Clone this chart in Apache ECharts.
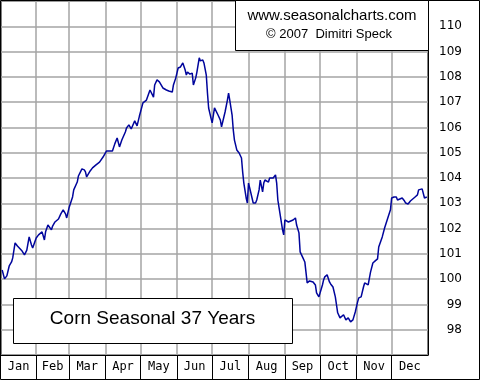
<!DOCTYPE html>
<html>
<head>
<meta charset="utf-8">
<script src="https://cdn.jsdelivr.net/npm/echarts@6/dist/echarts.min.js"></script>
<style>
html,body{margin:0;padding:0;background:#fff;}
#c{width:480px;height:380px;}
</style>
</head>
<body>
<div id="c"></div>
<script>
// Day of year (0-based) and seasonal index values
const days = [2,4,6,8,10,11,13,15,19,21,23,25,27,28,31,33,36,38,39,41,44,45,47,50,52,54,56,57,59,62,63,66,67,70,72,73,74,77,79,82,85,88,91,96,98,100,102,104,107,108,110,112,113,115,117,119,122,125,128,131,132,134,136,139,142,144,147,148,150,152,154,156,158,159,160,162,164,165,167,168,170,171,173,174,176,177,178,180,181,183,186,188,189,192,194,195,196,198,199,200,202,204,206,207,208,210,211,212,213,215,216,218,219,221,222,224,225,226,229,230,233,235,236,237,239,241,242,243,246,247,250,252,253,255,256,258,260,262,264,265,267,269,270,272,273,275,276,277,279,281,282,284,286,287,288,290,293,295,297,299,301,303,305,306,308,310,311,314,316,318,320,322,323,326,328,331,333,334,336,338,339,341,343,345,346,348,350,351,354,356,357,358,360,361,362,364];
const values = [100.36,100.01,100.13,100.52,100.68,100.84,101.43,101.31,101.11,100.96,101.15,101.67,101.35,101.23,101.63,101.75,101.87,101.55,101.87,102.14,101.95,102.10,102.26,102.38,102.58,102.74,102.58,102.42,102.82,103.25,103.53,103.84,104.08,104.36,104.32,104.24,104.04,104.28,104.40,104.52,104.63,104.83,105.07,105.07,105.35,105.58,105.23,105.50,105.82,105.98,106.10,105.94,105.98,106.26,106.06,106.45,106.97,107.08,107.48,107.20,107.68,107.88,107.80,107.56,107.48,107.44,107.40,107.68,107.96,108.35,108.39,108.55,108.27,108.07,108.19,108.11,108.15,107.68,107.96,108.19,108.75,108.63,108.67,108.55,108.07,107.36,106.77,106.37,106.18,106.77,106.49,106.29,106.02,106.61,107.08,107.36,107.08,106.49,105.90,105.50,105.11,104.99,104.79,104.24,103.80,103.21,103.01,103.80,103.61,103.21,103.01,103.01,103.13,103.53,103.92,103.45,103.80,103.92,103.84,104.00,104.00,104.12,103.80,103.13,102.54,101.95,101.75,102.34,102.26,102.26,102.34,102.42,102.14,101.83,101.08,100.88,100.68,99.85,99.93,99.97,99.89,99.77,99.46,99.30,99.26,99.77,99.97,100.09,100.17,99.89,99.81,99.69,99.30,98.98,98.67,98.47,98.59,98.39,98.47,98.31,98.39,98.70,99.10,99.26,99.30,99.69,99.85,99.77,100.28,100.64,100.72,100.80,101.27,101.67,102.02,102.46,102.74,103.21,103.25,103.25,103.13,103.17,103.21,103.09,103.01,102.97,103.09,103.13,103.25,103.33,103.53,103.57,103.57,103.53,103.21,103.25];
const monthNames = ['Jan','Feb','Mar','Apr','May','Jun','Jul','Aug','Sep','Oct','Nov','Dec'];
const monthStarts = [31,59,90,120,151,181,212,243,273,304,334];
const monthMids = [16,45,74.5,105,135.5,166,196.5,227.5,258,288.5,319,349.5];
const yTicks = [98,99,100,101,102,103,104,105,106,107,108,109,110];

const chart = echarts.init(document.getElementById('c'), null, {renderer:'canvas'});
const data = days.map((d,i)=>[d, values[i]]);

chart.setOption({
  animation:false,
  backgroundColor:'#ffffff',
  grid:{left:1, top:1, right:52, bottom:25, show:true, borderColor:'#000', borderWidth:1},
  xAxis:{
    type:'value', min:1, max:365,
    axisLine:{show:true, lineStyle:{color:'#000', width:1}},
    axisTick:{show:true, customValues:monthStarts, length:24, inside:false, lineStyle:{color:'#000', width:1}},
    axisLabel:{show:true, customValues:monthMids, margin:6, color:'#000', fontFamily:'DejaVu Sans Mono', fontSize:12,
      formatter:function(v){ const i = monthMids.indexOf(v); return i>=0 ? monthNames[i] : ''; }},
    splitLine:{show:true, lineStyle:{color:'#a4a4a4', width:1.5}}
  },
  yAxis:{
    type:'value', position:'right', min:97, max:111, interval:1,
    axisLine:{show:true, lineStyle:{color:'#000', width:1}},
    axisTick:{show:false},
    axisLabel:{show:true, align:'right', margin:34, color:'#000', fontFamily:'DejaVu Sans', fontSize:12,
      formatter:function(v){ return yTicks.indexOf(v)>=0 ? String(v) : ''; }},
    splitLine:{show:true, lineStyle:{color:'#a4a4a4', width:1.5}}
  },
  series:[{
    type:'line', data:data, showSymbol:false, symbol:'none',
    lineStyle:{color:'#00059c', width:1.5},
    z:5
  }],
  graphic:[
    {type:'rect', z:50, shape:{x:0.5,y:0.5,width:479,height:379}, style:{fill:null, stroke:'#000', lineWidth:1}, silent:true},
    {type:'rect', z:60, shape:{x:235.5,y:0.5,width:193,height:50}, style:{fill:'#fff', stroke:'#000', lineWidth:1}},
    {type:'text', z:61, x:332, y:16, style:{text:'www.seasonalcharts.com', fill:'#000', font:'15px "Liberation Sans", Arial, sans-serif', align:'center', verticalAlign:'middle'}},
    {type:'text', z:61, x:329, y:34, style:{text:'\u00A9 2007  Dimitri Speck', fill:'#000', font:'13px "Liberation Sans", Arial, sans-serif', align:'center', verticalAlign:'middle'}},
    {type:'rect', z:60, shape:{x:13.5,y:298.5,width:279,height:45}, style:{fill:'#fff', stroke:'#000', lineWidth:1}},
    {type:'text', z:61, x:152.5, y:319, style:{text:'Corn Seasonal 37 Years', fill:'#000', font:'19px "Liberation Sans", Arial, sans-serif', align:'center', verticalAlign:'middle'}}
  ]
});
</script>
</body>
</html>
